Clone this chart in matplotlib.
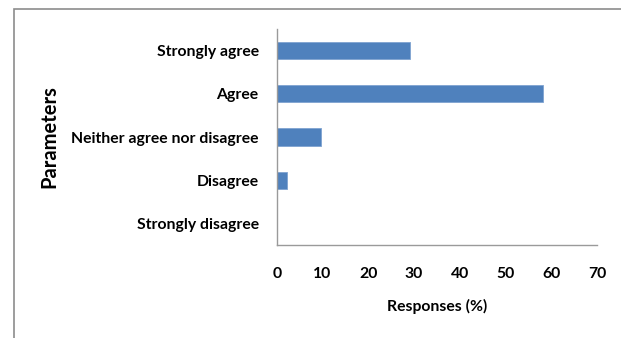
import matplotlib
matplotlib.use("Agg")
import matplotlib.pyplot as plt
from matplotlib.patches import Rectangle

categories = ["Strongly agree", "Agree", "Neither agree nor disagree",
              "Disagree", "Strongly disagree"]
responses = [29.2, 58.3, 9.7, 2.3, 0.0]
x_ticks = [0, 10, 20, 30, 40, 50, 60, 70]

plt.rcParams["font.family"] = ["Lato", "DejaVu Sans"]
plt.rcParams["font.weight"] = "bold"

fig = plt.figure(figsize=(6.21, 3.38), dpi=100)
W, H = 621, 338
# outer chart border (only top and left are visible in the crop)
fig.patches.append(Rectangle((14 / W, -1.0), 2.0, 2 - 9 / H, transform=fig.transFigure,
                             fill=False, edgecolor="#8c8c8c", lw=1.2))

ax = fig.add_axes([276.7 / W, 1 - 245 / H, (597 - 276.7) / W, (245 - 29) / H])
ypos = list(range(len(categories)))
ax.barh(ypos, responses, height=0.4, color="#4f81bd", edgecolor="#7fa3d0", lw=0.6)
ax.set_ylim(len(categories) - 0.5, -0.5)
ax.set_xlim(0, 70)
ax.set_yticks(ypos)
ax.set_yticklabels(categories, fontsize=11.3, fontweight="bold")
ax.set_xticks(x_ticks)
ax.set_xticklabels([str(t) for t in x_ticks], fontsize=11.3, fontweight="bold")
ax.tick_params(length=0)
ax.tick_params(axis="y", pad=13)
ax.tick_params(axis="x", pad=16)
for s in ("top", "right"):
    ax.spines[s].set_visible(False)
for s in ("left", "bottom"):
    ax.spines[s].set_color("#9a9a9a")
    ax.spines[s].set_linewidth(1.0)

ax.set_xlabel("Responses (%)", fontsize=11.3, fontweight="bold", labelpad=13)
fig.text(49 / W, 1 - 137 / H, "Parameters", rotation=90, fontsize=14.5,
         fontweight="bold", ha="center", va="center")

fig.savefig("out.png", dpi=100)
